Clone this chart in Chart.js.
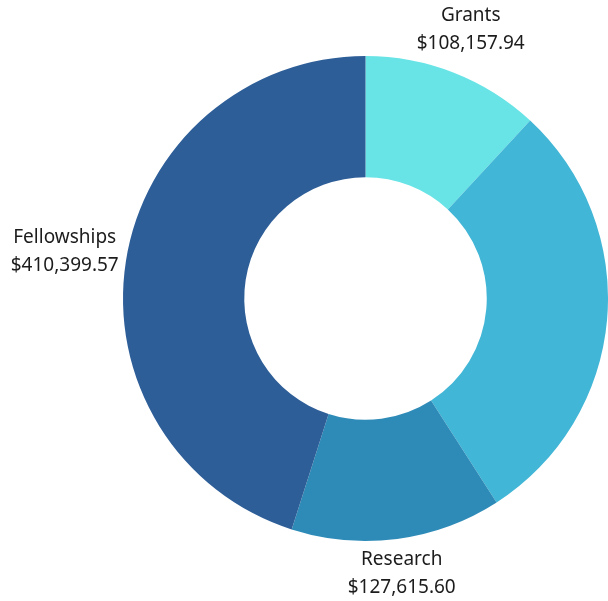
<!DOCTYPE html>
<html>
<head>
<meta charset="utf-8">
<script src="https://cdn.jsdelivr.net/npm/chart.js@4"></script>
<style>
  html, body { margin: 0; padding: 0; background: #fff; overflow: hidden; }
  #wrap { width: 608px; height: 601px; }
</style>
</head>
<body>
<div id="wrap"><canvas id="budgetChart"></canvas></div>
<script>
// Data
const categories = ['Grants', 'Scholarships', 'Research', 'Fellowships'];
const amounts = [108157.94, 264300.00, 127615.60, 410399.57];
const sliceColors = ['#68e4e6', '#42b6d6', '#2e8bb8', '#2e5e98'];

const formatMoney = v => '$' + v.toLocaleString('en-US', { minimumFractionDigits: 2, maximumFractionDigits: 2 });

// Draws "name / amount" outside each slice, at the slice's middle angle
const outsideLabels = {
  id: 'outsideLabels',
  afterDraw(chart) {
    const ctx = chart.ctx;
    const meta = chart.getDatasetMeta(0);
    const lineHeight = 28;
    ctx.save();
    ctx.font = '19px "Noto Sans"';
    ctx.fillStyle = '#1c1c1c';
    ctx.textAlign = 'center';
    ctx.textBaseline = 'middle';
    meta.data.forEach((arc, i) => {
      const { x, y, startAngle, endAngle, outerRadius } = arc.getProps(['x', 'y', 'startAngle', 'endAngle', 'outerRadius'], true);
      const mid = (startAngle + endAngle) / 2;
      const ux = Math.cos(mid);
      const uy = Math.sin(mid);
      const lines = [categories[i], formatMoney(amounts[i])];
      const w = Math.max(...lines.map(t => ctx.measureText(t).width));
      const h = lineHeight * lines.length - 10;
      const reach = outerRadius + 5 + Math.abs(ux) * w / 2 + Math.abs(uy) * h / 2;
      const cx = x + ux * reach;
      const cy = y + uy * reach;
      lines.forEach((t, k) => {
        ctx.fillText(t, cx, cy + (k - (lines.length - 1) / 2) * lineHeight);
      });
    });
    ctx.restore();
  }
};

const chart = new Chart(document.getElementById('budgetChart'), {
  type: 'doughnut',
  data: {
    labels: categories,
    datasets: [{
      data: amounts,
      backgroundColor: sliceColors,
      borderWidth: 0,
      hoverOffset: 0
    }]
  },
  options: {
    responsive: true,
    maintainAspectRatio: false,
    animation: false,
    events: [],
    cutout: '50%',
    layout: {
      padding: { left: 123, right: 0, top: 56, bottom: 60 }
    },
    plugins: {
      legend: { display: false },
      tooltip: { enabled: false }
    }
  },
  plugins: [outsideLabels]
});
</script>
</body>
</html>
